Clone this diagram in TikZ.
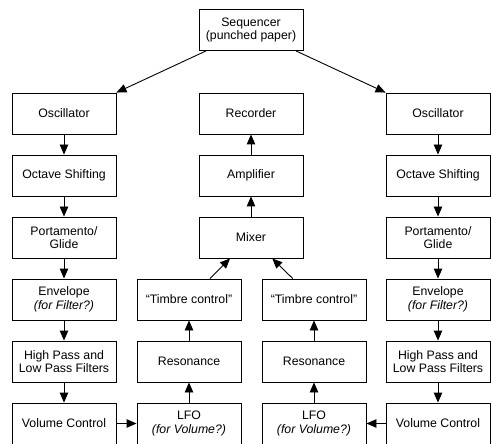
\documentclass[tikz,border=0pt]{standalone}
\usepackage{fontspec}
\setmainfont{Liberation Sans}
\usetikzlibrary{arrows.meta}
\begin{document}
\begin{tikzpicture}[x=1pt,y=-1pt,
  box/.style={draw=black, line width=0.9pt, minimum width=104pt, minimum height=41pt,
    inner sep=0pt, align=center, font=\fontsize{12.3}{13.5}\selectfont},
  arr/.style={-{Triangle[length=10pt,width=8.5pt]}, line width=0.9pt}]
\path[use as bounding box, clip] (0,0) rectangle (491,444);
% top
\node[box] (seq) at (251,30) {Sequencer\\(punched paper)};
% left column
\node[box] (osc1) at (64,113.5) {Oscillator};
\node[box] (oct1) at (64,175.5) {Octave Shifting};
\node[box] (por1) at (64,237.5) {Portamento/\\Glide};
\node[box] (env1) at (64,299.5) {Envelope\\\textit{(for Filter?)}};
\node[box] (hp1)  at (64,361.5) {High Pass and\\Low Pass Filters};
\node[box] (vol1) at (64,423.5) {Volume Control};
% right column
\node[box] (osc2) at (438,113.5) {Oscillator};
\node[box] (oct2) at (438,175.5) {Octave Shifting};
\node[box] (por2) at (438,237.5) {Portamento/\\Glide};
\node[box] (env2) at (438,299.5) {Envelope\\\textit{(for Filter?)}};
\node[box] (hp2)  at (438,361.5) {High Pass and\\Low Pass Filters};
\node[box] (vol2) at (438,423.5) {Volume Control};
% middle
\node[box] (rec) at (251,113.5) {Recorder};
\node[box] (amp) at (251,175.5) {Amplifier};
\node[box] (mix) at (251,237.5) {Mixer};
\node[box] (timL) at (189,299.5) {“Timbre control”};
\node[box] (resL) at (189,361.5) {Resonance};
\node[box] (lfoL) at (189,423.5) {LFO\\\textit{(for Volume?)}};
\node[box] (timR) at (314,299.5) {“Timbre control”};
\node[box] (resR) at (314,361.5) {Resonance};
\node[box] (lfoR) at (314,423.5) {LFO\\\textit{(for Volume?)}};
% connectors
\draw[arr] (seq) -- (osc1.north east);
\draw[arr] (seq) -- (osc2.north west);
\draw[arr] (osc1) -- (oct1);
\draw[arr] (oct1) -- (por1);
\draw[arr] (por1) -- (env1);
\draw[arr] (env1) -- (hp1);
\draw[arr] (hp1) -- (vol1);
\draw[arr] (osc2) -- (oct2);
\draw[arr] (oct2) -- (por2);
\draw[arr] (por2) -- (env2);
\draw[arr] (env2) -- (hp2);
\draw[arr] (hp2) -- (vol2);
\draw[arr] (vol1) -- (lfoL);
\draw[arr] (vol2) -- (lfoR);
\draw[arr] (lfoL) -- (resL);
\draw[arr] (resL) -- (timL);
\draw[arr] (lfoR) -- (resR);
\draw[arr] (resR) -- (timR);
\draw[arr] (timL) -- (mix);
\draw[arr] (timR) -- (mix);
\draw[arr] (mix) -- (amp);
\draw[arr] (amp) -- (rec);
\end{tikzpicture}
\end{document}
